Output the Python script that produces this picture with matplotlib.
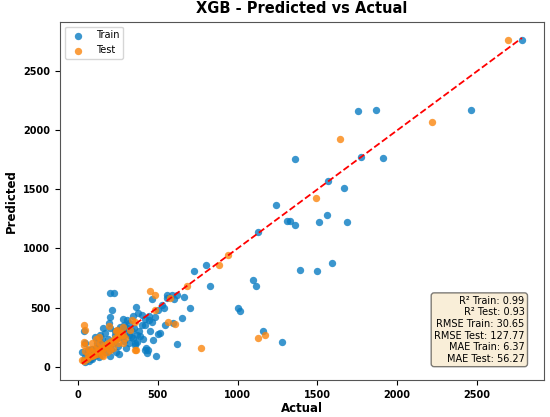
import numpy as np
import matplotlib
matplotlib.use("Agg")
import matplotlib.pyplot as plt

# train set: actual / predicted
train_actual = [
    2782, 1756, 1867, 2463, 1358, 1771, 1911, 1568, 1668, 1308, 1328, 1358, 1510,
    1558, 1687, 1391, 1497, 1589, 1240, 1130, 1280, 803, 730, 828, 1099, 1116,
    1005, 1016, 1162, 557, 588, 620, 665, 598, 651, 703, 619, 504, 488,
    202, 227, 213, 363, 379, 400, 348, 307, 526, 540, 463, 448, 421, 442, 463,
    546, 317, 296, 265, 286, 192, 202, 160, 150, 317, 348, 369, 359, 359, 473,
    515, 427, 436, 421, 432, 369, 46, 35, 46, 66, 25, 108, 129,
    60, 80, 100, 120, 140, 160, 180, 200, 220, 240, 260, 280, 300, 90, 130,
    170, 210, 250, 110, 150, 190, 230, 270, 310, 200, 240, 330, 380, 400, 420,
    350, 290, 70, 55, 260, 300, 320, 170, 140, 120, 45, 60, 90, 250, 280,
    200, 230, 340, 390, 410, 450, 480, 500, 560, 600, 40, 75, 95, 115, 135,
]
train_pred = [
    2768, 2161, 2175, 2175, 1758, 1771, 1766, 1575, 1512, 1235, 1235, 1201, 1220,
    1280, 1226, 817, 811, 876, 1370, 1141, 212, 862, 811, 678, 729, 684,
    495, 472, 297, 602, 608, 608, 593, 373, 410, 495, 190, 277, 91,
    622, 622, 480, 503, 452, 438, 424, 396, 523, 495, 571, 390, 353, 424, 381,
    353, 368, 339, 339, 353, 368, 325, 325, 232, 269, 241, 212, 184, 198, 226,
    283, 161, 142, 141, 113, 269, 85, 297, 198, 141, 127, 254, 241,
    100, 70, 90, 110, 130, 150, 170, 190, 200, 230, 250, 260, 280, 60, 80,
    120, 150, 170, 160, 190, 230, 270, 300, 330, 90, 120, 250, 300, 350, 400,
    330, 220, 45, 65, 110, 160, 200, 280, 270, 200, 40, 120, 150, 310, 400,
    420, 300, 300, 260, 230, 300, 420, 480, 580, 570, 55, 60, 110, 95, 160,
]

# test set
test_actual = [
    2695, 1641, 2217, 1489, 943, 882, 682, 452, 484, 578, 484, 567, 609, 772,
    365, 1130, 1172, 35, 46, 35, 39, 25, 338, 359, 285, 192, 296, 327, 244,
    265, 285, 359, 40, 55, 70, 85, 100, 110, 120, 130, 140, 150, 160, 170,
    180, 190, 200, 210, 220, 230, 240, 250, 260, 270, 280, 60, 80, 100, 120,
    140, 160, 180, 200, 90, 110, 130, 150, 220, 240, 250, 70, 45,
]
test_pred = [
    2768, 1927, 2068, 1430, 947, 862, 678, 636, 602, 580, 480, 381, 362, 156,
    136, 241, 269, 353, 311, 212, 184, 57, 396, 381, 339, 345, 240, 311, 311,
    283, 198, 141, 45, 60, 80, 90, 100, 120, 110, 140, 130, 160, 150, 180,
    170, 200, 190, 220, 210, 240, 230, 260, 250, 280, 270, 100, 130, 150, 170,
    200, 90, 120, 140, 200, 230, 250, 100, 160, 300, 200, 150, 130,
]

metrics = [
    "R\u00b2 Train: 0.99",
    "R\u00b2 Test: 0.93",
    "RMSE Train: 30.65",
    "RMSE Test: 127.77",
    "MAE Train: 6.37",
    "MAE Test: 56.27",
]

fig = plt.figure(figsize=(5.5, 4.17), dpi=100)
ax = fig.add_axes([0.109, 0.089, 0.88, 0.859])

ax.scatter(train_actual, train_pred, s=28, color="#0a7cc2", alpha=0.8, label="Train", linewidths=0)
ax.scatter(test_actual, test_pred, s=28, color="#fa860f", alpha=0.8, label="Test", linewidths=0)

lo = min(min(train_actual), min(test_actual))
hi = max(max(train_actual), max(test_actual))
ax.plot([lo, hi], [lo, hi], "r--", lw=1.3)

ax.set_title("XGB - Predicted vs Actual", fontsize=10.5, fontweight="bold")
ax.set_xlabel("Actual", fontsize=8.5, fontweight="bold", labelpad=2)
ax.set_ylabel("Predicted", fontsize=8.5, fontweight="bold")
ax.set_xticks([0, 500, 1000, 1500, 2000, 2500])
ax.set_yticks([0, 500, 1000, 1500, 2000, 2500])
for lab in ax.get_xticklabels() + ax.get_yticklabels():
    lab.set_fontweight("bold")
    lab.set_fontsize(7)
for sp in ax.spines.values():
    sp.set_color("#555555")

ax.legend(loc="upper left", fontsize=7)

ax.text(0.96, 0.045, "\n".join(metrics), transform=ax.transAxes, fontsize=7,
        ha="right", va="bottom", multialignment="right",
        bbox=dict(boxstyle="round", facecolor="wheat", alpha=0.5))

fig.savefig("out.png", dpi=100)
